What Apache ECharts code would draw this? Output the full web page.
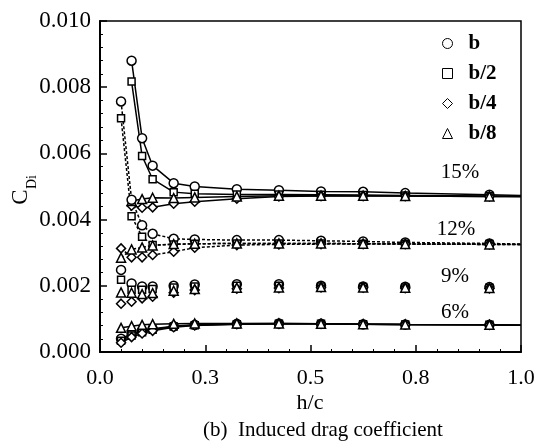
<!DOCTYPE html>
<html>
<head>
<meta charset="utf-8">
<title>Induced drag coefficient</title>
<script src="https://cdn.jsdelivr.net/npm/echarts/dist/echarts.min.js"></script>
<style>
	html, body { margin: 0; padding: 0; background: #fff; }
	#e_chart_cdi { width: 547px; height: 446px; }
</style>
</head>
<body>
<div id="e_chart_cdi"></div>
<script>
"use strict";

/*****Data start*****/
// h/c stations (1.0 = line runs to the frame, no marker)
var hc15 = [0.075, 0.1, 0.125, 0.175, 0.225, 0.325, 0.425, 0.525, 0.625, 0.725, 0.925, 1.0];
var hc = [0.05, 0.075, 0.1, 0.125, 0.175, 0.225, 0.325, 0.425, 0.525, 0.625, 0.725, 0.925, 1.0];
var hc9 = [0.05, 0.075, 0.1, 0.125, 0.175, 0.225, 0.325, 0.425, 0.525, 0.625, 0.725, 0.925];

// 15% (solid)
var cd15_b  = [0.0088, 0.00646, 0.00563, 0.0051, 0.0050, 0.00492, 0.00489, 0.00485, 0.00484, 0.0048, 0.00475, 0.00473];
var cd15_b2 = [0.00817, 0.00592, 0.00522, 0.00483, 0.00478, 0.00476, 0.00476, 0.00475, 0.00474, 0.00473, 0.00471, 0.0047];
var cd15_b4 = [0.00442, 0.00436, 0.00437, 0.00448, 0.00454, 0.00463, 0.0047, 0.00471, 0.00471, 0.00471, 0.0047, 0.0047];
var cd15_b8 = [0.00456, 0.00462, 0.00466, 0.00465, 0.00467, 0.0047, 0.00472, 0.00472, 0.00472, 0.00471, 0.0047, 0.0047];

// 12% (dashed)
var cd12_b  = [0.00757, 0.0046, 0.00383, 0.00357, 0.00342, 0.0034, 0.00338, 0.00338, 0.00336, 0.00334, 0.00331, 0.00328, 0.00326];
var cd12_b2 = [0.00706, 0.0041, 0.00348, 0.00323, 0.00325, 0.00327, 0.00328, 0.00328, 0.00328, 0.00327, 0.00327, 0.00326, 0.00325];
var cd12_b4 = [0.00313, 0.00286, 0.00286, 0.00293, 0.00303, 0.00315, 0.00323, 0.00325, 0.00326, 0.00326, 0.00326, 0.00325, 0.00325];
var cd12_b8 = [0.00285, 0.0031, 0.00316, 0.00322, 0.00326, 0.00327, 0.00328, 0.00328, 0.00328, 0.00327, 0.00326, 0.00325, 0.00325];

// 9% (markers only)
var cd9_b  = [0.00248, 0.00207, 0.00198, 0.00198, 0.002, 0.00204, 0.00205, 0.00205, 0.002, 0.00198, 0.00197, 0.00196];
var cd9_b2 = [0.00218, 0.00188, 0.00188, 0.0019, 0.00195, 0.00198, 0.002, 0.002, 0.00198, 0.00196, 0.00195, 0.00194];
var cd9_b4 = [0.00146, 0.00152, 0.00162, 0.00167, 0.00179, 0.00187, 0.00191, 0.00193, 0.00195, 0.00194, 0.00193, 0.00192];
var cd9_b8 = [0.0018, 0.00179, 0.00175, 0.00178, 0.00185, 0.0019, 0.00194, 0.00195, 0.00196, 0.00195, 0.00194, 0.00193];

// 6% (solid)
var cd6_b  = [0.0004, 0.00055, 0.00064, 0.0007, 0.00078, 0.00082, 0.00085, 0.00086, 0.00085, 0.00084, 0.00083, 0.00082, 0.00081];
var cd6_b2 = [0.00034, 0.0005, 0.0006, 0.00067, 0.00077, 0.00081, 0.00084, 0.00085, 0.00085, 0.00084, 0.00083, 0.00082, 0.00081];
var cd6_b4 = [0.00028, 0.00045, 0.00056, 0.00064, 0.00075, 0.0008, 0.00084, 0.00085, 0.00085, 0.00084, 0.00083, 0.00082, 0.00081];
var cd6_b8 = [0.00073, 0.00078, 0.00082, 0.00084, 0.00085, 0.00086, 0.00086, 0.00086, 0.00085, 0.00084, 0.00083, 0.00082, 0.00081];

var xTickLabels = ['0.0', '0.3', '0.5', '0.8', '1.0'];
var yTickLabels = ['0.000', '0.002', '0.004', '0.006', '0.008', '0.010'];
var spanLabels = ['15%', '12%', '9%', '6%'];
/*****Data end*****/

var serif = "'Liberation Serif', 'Times New Roman', serif";
var shapes = {
	'b':   { symbol: 'circle',   size: 9 },
	'b/2': { symbol: 'rect',     size: 7 },
	'b/4': { symbol: 'diamond',  size: 9 },
	'b/8': { symbol: 'triangle', size: 9 }
};

var makeSeries = function(name, xs, ys, lineType) {
	var pts = [];
	for (var i = 0; i < ys.length; i++) {
		if (xs[i] === 1.0) {
			pts.push({ value: [xs[i], ys[i]], symbol: 'none' });
		} else {
			pts.push([xs[i], ys[i]]);
		}
	}
	return {
		name: name,
		type: lineType ? 'line' : 'scatter',
		data: pts,
		symbol: shapes[name].symbol,
		symbolSize: shapes[name].size,
		lineStyle: {
			color: '#000',
			width: 1.5,
			type: lineType || 'solid'
		},
		itemStyle: {
			color: '#fff',
			borderColor: '#000',
			borderWidth: 1.5,
			opacity: 1
		},
		emphasis: { disabled: true },
		animation: false
	};
};

var seriesList = [
	makeSeries('b',   hc15, cd15_b,  'solid'),
	makeSeries('b/2', hc15, cd15_b2, 'solid'),
	makeSeries('b/4', hc15, cd15_b4, 'solid'),
	makeSeries('b/8', hc15, cd15_b8, 'solid'),
	makeSeries('b',   hc, cd12_b,  [3, 2]),
	makeSeries('b/2', hc, cd12_b2, [3, 2]),
	makeSeries('b/4', hc, cd12_b4, [3, 2]),
	makeSeries('b/8', hc, cd12_b8, [3, 2]),
	makeSeries('b',   hc9, cd9_b),
	makeSeries('b/2', hc9, cd9_b2),
	makeSeries('b/4', hc9, cd9_b4),
	makeSeries('b/8', hc9, cd9_b8),
	makeSeries('b',   hc, cd6_b,  'solid'),
	makeSeries('b/2', hc, cd6_b2, 'solid'),
	makeSeries('b/4', hc, cd6_b4, 'solid'),
	makeSeries('b/8', hc, cd6_b8, 'solid')
];

/*****E-Chart start*****/
var eChart_cdi = echarts.init(document.getElementById('e_chart_cdi'), null, { renderer: 'canvas' });
var option = {
	backgroundColor: '#fff',
	animation: false,
	grid: {
		left: 100,
		right: 26,
		top: 21,
		bottom: 94,
		show: true,
		borderColor: '#000',
		borderWidth: 1.5,
		backgroundColor: 'transparent'
	},
	legend: {
		orient: 'vertical',
		left: 437,
		top: 28,
		itemWidth: 10,
		itemHeight: 10,
		itemGap: 9,
		symbolKeepAspect: true,
		selectedMode: false,
		data: [
			{ name: 'b',   icon: 'circle' },
			{ name: 'b/2', icon: 'rect' },
			{ name: 'b/4', icon: 'diamond' },
			{ name: 'b/8', icon: 'triangle' }
		],
		itemStyle: { color: '#fff', borderColor: '#000', borderWidth: 1 },
		textStyle: { fontFamily: serif, fontSize: 21, fontWeight: 'bold', color: '#000', padding: [0, 0, 0, 11] }
	},
	xAxis: {
		type: 'value',
		min: 0,
		max: 1,
		interval: 0.25,
		axisLine: { lineStyle: { color: '#000', width: 2 } },
		axisTick: { inside: true, length: 7, lineStyle: { color: '#000', width: 1.5 } },
		minorTick: { show: true, splitNumber: 5, length: 3, lineStyle: { color: '#000', width: 1 } },
		splitLine: { show: false },
		axisLabel: {
			margin: 15,
			fontFamily: serif,
			fontSize: 22,
			color: '#000',
			formatter: function(v) { return xTickLabels[Math.round(v / 0.25)]; }
		}
	},
	yAxis: {
		type: 'value',
		min: 0,
		max: 0.01,
		interval: 0.002,
		axisLine: { show: true, lineStyle: { color: '#000', width: 2 } },
		axisTick: { show: true, inside: true, length: 7, lineStyle: { color: '#000', width: 1.5 } },
		minorTick: { show: true, splitNumber: 5, length: 3, lineStyle: { color: '#000', width: 1 } },
		splitLine: { show: false },
		axisLabel: {
			margin: 9,
			fontFamily: serif,
			fontSize: 23,
			color: '#000',
			formatter: function(v) { return yTickLabels[Math.round(v / 0.002)]; }
		}
	},
	graphic: [
		{ type: 'text', x: 21, y: 197, rotation: Math.PI / 2,
			style: { text: 'C', font: '23px ' + serif, fill: '#000', align: 'center', verticalAlign: 'middle' } },
		{ type: 'text', x: 32, y: 182, rotation: Math.PI / 2,
			style: { text: 'Di', font: '14px ' + serif, fill: '#000', align: 'center', verticalAlign: 'middle' } },
		{ type: 'text', x: 310, y: 403,
			style: { text: 'h/c', font: '22px ' + serif, fill: '#000', align: 'center', verticalAlign: 'middle' } },
		{ type: 'text', x: 323, y: 430,
			style: { text: '(b)  Induced drag coefficient', font: '21px ' + serif, fill: '#000', align: 'center', verticalAlign: 'middle' } },
		{ type: 'text', x: 460, y: 172,
			style: { text: spanLabels[0], font: '21px ' + serif, fill: '#000', align: 'center', verticalAlign: 'middle' } },
		{ type: 'text', x: 456, y: 229,
			style: { text: spanLabels[1], font: '21px ' + serif, fill: '#000', align: 'center', verticalAlign: 'middle' } },
		{ type: 'text', x: 455, y: 276,
			style: { text: spanLabels[2], font: '21px ' + serif, fill: '#000', align: 'center', verticalAlign: 'middle' } },
		{ type: 'text', x: 455, y: 312,
			style: { text: spanLabels[3], font: '21px ' + serif, fill: '#000', align: 'center', verticalAlign: 'middle' } }
	],
	series: seriesList
};
eChart_cdi.setOption(option);
/*****E-Chart end*****/
</script>
</body>
</html>
